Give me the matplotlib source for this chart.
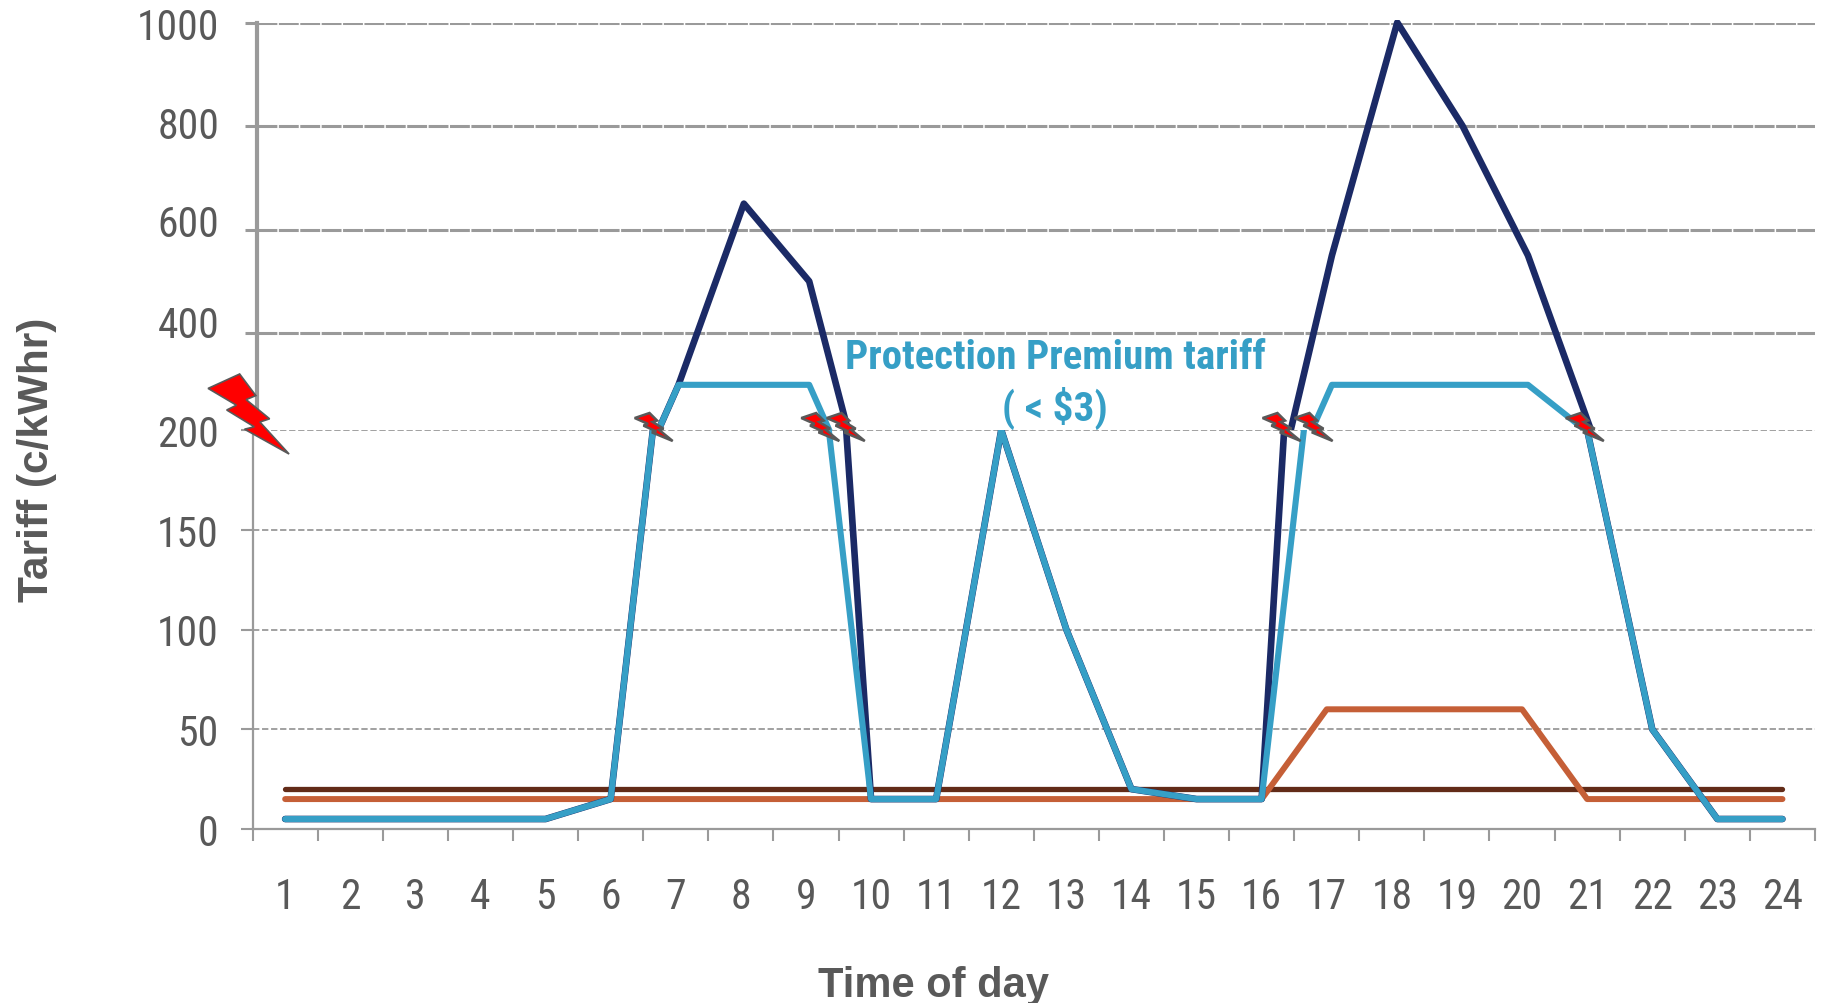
import numpy as np
from matplotlib import pyplot as plt
from matplotlib.patches import Polygon, Rectangle
from matplotlib.transforms import Affine2D, ScaledTranslation

W, H = 1825, 1004
NARROW = ['Roboto Condensed', 'Liberation Sans', 'DejaVu Sans']
plt.rcParams['font.family'] = NARROW

hours = list(range(1, 25))
peak_tariff = [5, 5, 5, 5, 5, 15, 300, 650, 500, 15, 15, 200,
               100, 20, 15, 15, 550, 1000, 800, 550, 200, 50, 5, 5]
premium_tariff = [5, 5, 5, 5, 5, 15, 300, 300, 300, 15, 15, 200,
                  100, 20, 15, 15, 300, 300, 300, 300, 200, 50, 5, 5]
off_peak_tariff = [15, 15, 15, 15, 15, 15, 15, 15, 15, 15, 15, 15,
                   15, 15, 15, 15, 60, 60, 60, 60, 15, 15, 15, 15]
flat_tariff = [20] * 24

lower_ticks = [0, 50, 100, 150, 200]
upper_ticks = [400, 600, 800, 1000]
upper_label_shift = [12, 10, 4, -1]

bolt_hours = [6.62, 9.17, 9.56, 16.23, 16.72, 20.87]
bolt_value = 218.5

NAVY = '#1b2a66'
BLUE = '#369fc6'
ORANGE = '#c55f37'
BROWN = '#622b18'
GREY = '#9a9a9a'
TEXT = '#595959'

# lightning bolt outline, unit box centred on the origin
bolt_shape = np.array([(-0.50, 0.32), (-0.11, 0.50), (0.09, 0.23), (-0.03, 0.18),
                       (0.26, -0.06), (0.14, -0.10), (0.50, -0.50), (-0.05, -0.19),
                       (0.07, -0.16), (-0.27, 0.05), (-0.15, 0.11)])


def px_axes(fig, left, right, top, bottom):
    return fig.add_axes([left / W, 1 - bottom / H, (right - left) / W, (bottom - top) / H],
                        facecolor='none')


def draw_lines(ax):
    kw = dict(solid_capstyle='round', solid_joinstyle='round')
    ax.plot(hours, flat_tariff, color=BROWN, lw=3.8, **kw)
    ax.plot(hours, off_peak_tariff, color=ORANGE, lw=4.3, **kw)
    ax.plot(hours, peak_tariff, color=NAVY, lw=4.8, **kw)
    ax.plot(hours, premium_tariff, color=BLUE, lw=4.4, **kw)


def add_bolt(ax, hour, value, w, h, lw):
    tr = Affine2D().scale(w, h) + ScaledTranslation(hour, value, ax.transData)
    ax.add_patch(Polygon(bolt_shape, closed=True, transform=tr, facecolor='#ff0000',
                         edgecolor=TEXT, lw=lw, clip_on=False, zorder=6))


fig = plt.figure(figsize=(W / 100, H / 100), dpi=100, facecolor='white')

# the chart is two stacked scales, 0-200 and ~213-1000, each clipped at the join
ax_low = px_axes(fig, 252.6, 1815, 431, 830)
ax_up = px_axes(fig, 257, 1815, 23.5, 431)

draw_lines(ax_low)
ax_low.set_xlim(0.5, 24.5)
ax_low.set_ylim(0, 200)
ax_low.set_yticks(lower_ticks)
ax_low.set_xticks(hours)
ax_low.set_xticks(np.arange(0.5, 25), minor=True)
ax_low.tick_params(axis='x', which='major', length=0, pad=33.5, labelsize=30, labelcolor=TEXT)
ax_low.tick_params(axis='x', which='minor', length=8.6, width=1.5, color=GREY)
ax_low.tick_params(axis='y', length=8.6, width=1.5, color=GREY, pad=16, labelsize=30, labelcolor=TEXT)
ax_low.grid(axis='y', color=GREY, lw=1.3, dashes=(3.5, 1.5))
ax_low.set_axisbelow(True)
for s in ['top', 'right']:
    ax_low.spines[s].set_visible(False)
for s in ['left', 'bottom']:
    ax_low.spines[s].set_color(GREY)
    ax_low.spines[s].set_linewidth(1.6)

draw_lines(ax_up)
# upper scale runs slightly wider than the lower one
ax_up.set_xlim(0.549, 24.393)
ax_up.set_ylim(212.7, 1000)
for line in ax_up.get_lines():
    # the 1000 peak pokes just above the top of the axis
    line.set_clip_path(Rectangle((0, 0), 1, 1.005, transform=ax_up.transAxes))
ax_up.set_yticks(upper_ticks)
ax_up.set_xticks([])
ax_up.tick_params(axis='y', length=8.6, width=2.2, color=GREY, pad=18.5, labelsize=30, labelcolor=TEXT)
ax_up.grid(axis='y', color=GREY, lw=2.2, dashes=(6.5, 0.5))
ax_up.set_axisbelow(True)
for s in ['top', 'right', 'bottom']:
    ax_up.spines[s].set_visible(False)
ax_up.spines['left'].set_color(GREY)
ax_up.spines['left'].set_linewidth(3)
for lab, dy in zip(ax_up.get_yticklabels(), upper_label_shift):
    lab.set_transform(lab.get_transform() + Affine2D().translate(0, dy))

for hr in bolt_hours:
    add_bolt(ax_up, hr, bolt_value, 38, 28, 1.8)
add_bolt(ax_up, 0.42, 243.6, 81, 80, 1.2)

fig.text(37 / W, 1 - 460 / H, 'Tariff (c/kWhr)', rotation=90, ha='center', va='center',
         fontsize=30.5, fontweight='bold', color=TEXT, family='Liberation Sans')
fig.text(933 / W, 1 - 986 / H, 'Time of day', ha='center', va='center',
         fontsize=30, fontweight='bold', color=TEXT, family='Liberation Sans')
fig.text(1055 / W, 1 - 358 / H, 'Protection Premium tariff', ha='center', va='center',
         fontsize=29.5, fontweight='bold', color=BLUE)
fig.text(1055 / W, 1 - 408 / H, '( < $3)', ha='center', va='center',
         fontsize=29.5, fontweight='bold', color=BLUE)

fig.savefig('out.png', dpi=100)
